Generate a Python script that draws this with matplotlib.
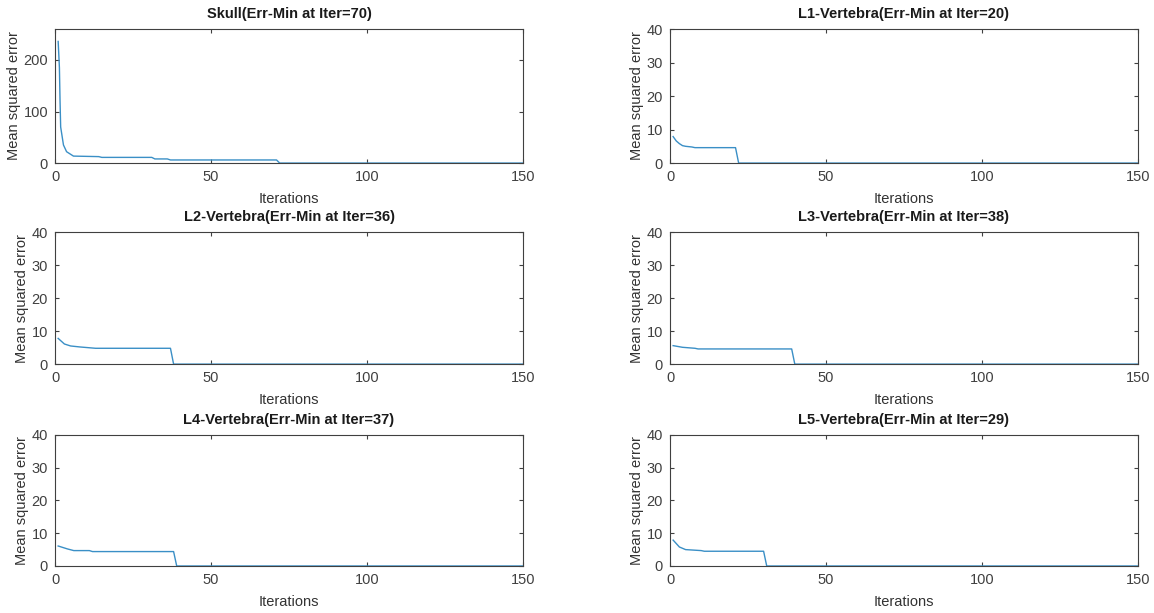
import matplotlib.pyplot as plt

plt.rcParams['font.family'] = ['Liberation Sans', 'DejaVu Sans']

# breakpoints of each error curve (iteration, mean squared error)
skull_x = [1, 1.4, 1.6, 1.8, 2.7, 3.7, 5.9, 14, 15, 31, 32, 36, 37, 71, 72, 150]
skull_y = [236, 185, 121, 70, 35, 22, 13.5, 12.5, 11, 11, 8, 8, 6, 6, 0, 0]

l1_x = [1, 2, 3, 4, 5, 7, 8, 21, 22, 150]
l1_y = [7.9, 6.6, 5.8, 5.2, 5.0, 4.8, 4.6, 4.6, 0, 0]

l2_x = [1, 3, 5, 8, 13, 37, 38, 150]
l2_y = [7.8, 6.1, 5.5, 5.2, 4.8, 4.8, 0, 0]

l3_x = [1, 4, 8, 9, 39, 40, 150]
l3_y = [5.6, 5.1, 4.8, 4.6, 4.6, 0, 0]

l4_x = [1, 4, 6, 11, 12, 38, 39, 150]
l4_y = [6.1, 5.2, 4.7, 4.7, 4.4, 4.4, 0, 0]

l5_x = [1, 3, 5, 10, 11, 30, 31, 150]
l5_y = [7.9, 5.8, 5.0, 4.7, 4.5, 4.5, 0, 0]

titles = ["Skull(Err-Min at Iter=70)", "L1-Vertebra(Err-Min at Iter=20)",
          "L2-Vertebra(Err-Min at Iter=36)", "L3-Vertebra(Err-Min at Iter=38)",
          "L4-Vertebra(Err-Min at Iter=37)", "L5-Vertebra(Err-Min at Iter=29)"]
curves = [(skull_x, skull_y), (l1_x, l1_y), (l2_x, l2_y),
          (l3_x, l3_y), (l4_x, l4_y), (l5_x, l5_y)]

fig = plt.figure(figsize=(11.54, 6.13), dpi=100)

lefts = [0.0477, 0.5806]
bottoms = [0.734, 0.406, 0.0767]
heights = [0.2186, 0.2153, 0.2137]
w = 0.4055

for i, (cx, cy) in enumerate(curves):
    r, c = i // 2, i % 2
    ax = fig.add_axes([lefts[c], bottoms[r], w, heights[r]])
    ax.plot(cx, cy, color="#3a8fc6", lw=1)
    ax.set_xlim(0, 150)
    ax.set_xticks([0, 50, 100, 150])
    if i == 0:
        ax.set_ylim(0, 260)
        ax.set_yticks([0, 100, 200])
    else:
        ax.set_ylim(0, 40)
        ax.set_yticks([0, 10, 20, 30, 40])
    ax.set_title(titles[i], fontsize=10.5, fontweight="bold", color="#1a1a1a", pad=8)
    ax.set_xlabel("Iterations", fontsize=10.5, color="#333333", labelpad=6)
    ax.set_ylabel("Mean squared error", fontsize=10.5, color="#333333", labelpad=2)
    ax.tick_params(direction="in", top=True, right=True, length=3, width=0.8,
                   labelsize=10.5, colors="#404040", pad=5)
    for s in ax.spines.values():
        s.set_color("#404040")
        s.set_linewidth(0.8)

plt.savefig("out.png", dpi=100)
